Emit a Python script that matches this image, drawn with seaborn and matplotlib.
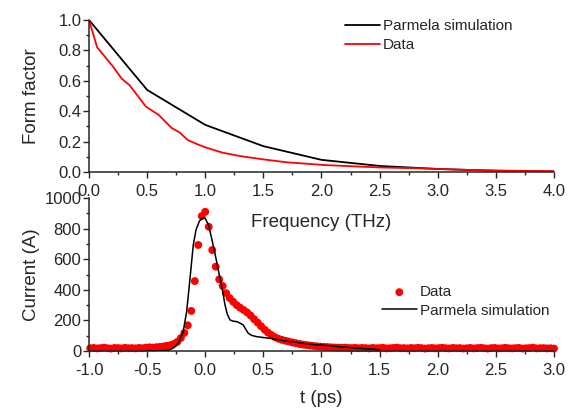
import numpy as np
import matplotlib
matplotlib.use("Agg")
import matplotlib.pyplot as plt
from matplotlib.ticker import MultipleLocator, FormatStrFormatter
import seaborn as sns

# form factor vs frequency (THz)
sim_freq = [0.0, 0.5, 1.0, 1.5, 2.0, 2.5, 3.0, 3.5, 4.0]
sim_ff = [1.0, 0.54, 0.31, 0.17, 0.08, 0.04, 0.02, 0.008, 0.004]
data_freq = [0.0, 0.07, 0.135, 0.21, 0.28, 0.35, 0.42, 0.49, 0.6, 0.71, 0.78, 0.85, 0.94, 1.01,
             1.15, 1.3, 1.5, 1.7, 1.9, 2.02, 2.2, 2.5, 2.8, 3.0, 3.3, 3.5, 3.8, 4.0]
data_ff = [1.0, 0.82, 0.76, 0.69, 0.615, 0.57, 0.50, 0.43, 0.375, 0.29, 0.26, 0.21, 0.18, 0.16,
           0.127, 0.105, 0.083, 0.064, 0.053, 0.046, 0.04, 0.03, 0.025, 0.02, 0.013, 0.01, 0.007, 0.005]

# current profile (A) vs time (ps)
data_t = [-0.99, -0.96, -0.93, -0.90, -0.87, -0.84, -0.81, -0.78, -0.75, -0.72,
          -0.69, -0.66, -0.63, -0.60, -0.57, -0.54, -0.51, -0.48, -0.45, -0.42,
          -0.39, -0.36, -0.33, -0.30, -0.27, -0.24, -0.21, -0.18, -0.15, -0.12,
          -0.09, -0.06, -0.03, 0.00, 0.03, 0.06, 0.09, 0.12, 0.15, 0.18,
          0.21, 0.24, 0.27, 0.30, 0.33, 0.36, 0.39, 0.42, 0.45, 0.48,
          0.51, 0.54, 0.57, 0.60, 0.63, 0.66, 0.69, 0.72, 0.75, 0.78,
          0.81, 0.84, 0.87, 0.90, 0.93, 0.96, 0.99, 1.02, 1.05, 1.08,
          1.11, 1.14, 1.17, 1.20, 1.23, 1.26, 1.29, 1.32, 1.35, 1.38,
          1.41, 1.44, 1.47, 1.50, 1.53, 1.56, 1.59, 1.62, 1.65, 1.68,
          1.71, 1.74, 1.77, 1.80, 1.83, 1.86, 1.89, 1.92, 1.95, 1.98,
          2.01, 2.04, 2.07, 2.10, 2.13, 2.16, 2.19, 2.22, 2.25, 2.28,
          2.31, 2.34, 2.37, 2.40, 2.43, 2.46, 2.49, 2.52, 2.55, 2.58,
          2.61, 2.64, 2.67, 2.70, 2.73, 2.76, 2.79, 2.82, 2.85, 2.88,
          2.91, 2.94, 2.97, 3.00]
data_i = [18, 20, 17, 19, 22, 18, 16, 20, 19, 17,
          21, 18, 19, 17, 20, 18, 22, 24, 22, 25,
          27, 30, 34, 38, 47, 60, 85, 118, 168, 262,
          457, 693, 882, 910, 812, 660, 551, 468, 425, 378,
          346, 322, 300, 283, 268, 252, 232, 208, 186, 162,
          140, 120, 104, 90, 80, 73, 67, 62, 56, 51,
          46, 42, 39, 36, 33, 31, 29, 27, 26, 24,
          23, 22, 21, 22, 20, 19, 21, 18, 20, 19,
          17, 20, 18, 19, 21, 17, 18, 20, 22, 18,
          19, 17, 20, 18, 21, 19, 16, 18, 20, 17,
          19, 21, 18, 17, 20, 18, 19, 16, 18, 20,
          17, 19, 21, 18, 16, 19, 20, 17, 18, 21,
          18, 17, 19, 20, 16, 18, 19, 22, 17, 18,
          19, 17, 18, 16]

sim_t = [-0.50, -0.40, -0.33, -0.30, -0.27, -0.246, -0.22, -0.19, -0.16, -0.131, -0.103, -0.08,
         -0.05, -0.02, 0.0, 0.03, 0.055, 0.08, 0.098, 0.12, 0.14, 0.17, 0.19, 0.213, 0.24, 0.27,
         0.30, 0.327, 0.35, 0.37, 0.40, 0.44, 0.50, 0.557, 0.62, 0.68, 0.73, 0.76, 0.80, 0.843,
         0.90, 1.00, 1.07, 1.15, 1.25, 1.35, 1.45, 1.50]
sim_i = [0, 0, 5, 10, 22, 39, 70, 126, 257, 475, 693, 790,
         850, 870, 867, 820, 736, 650, 584, 500, 431, 301, 240, 203, 195, 192,
         182, 170, 140, 116, 102, 94, 88, 83, 75, 66, 61, 62, 55, 50,
         44, 38, 35, 28, 22, 16, 12, 8]

sns.set_style('ticks')
plt.rcParams['font.family'] = ['Liberation Sans', 'DejaVu Sans']
plt.rcParams['xtick.direction'] = 'out'
plt.rcParams['ytick.direction'] = 'out'

fig = plt.figure(figsize=(5.72, 4.08), dpi=100)
ax1 = fig.add_axes([0.1556, 0.5784, 0.8129, 0.3726])
ax2 = fig.add_axes([0.1556, 0.1397, 0.8129, 0.375])
ax2.patch.set_visible(False)  # the top panel's xlabel sits inside this one

sns.lineplot(x=sim_freq, y=sim_ff, ax=ax1, color='black', lw=1.3, sort=False,
             estimator=None, label='Parmela simulation')
sns.lineplot(x=data_freq, y=data_ff, ax=ax1, color='red', lw=1.3, sort=False,
             estimator=None, label='Data')
ax1.set_xlim(0, 4.0)
ax1.set_ylim(0, 1.0)
ax1.xaxis.set_major_locator(MultipleLocator(0.5))
ax1.xaxis.set_minor_locator(MultipleLocator(0.25))
ax1.yaxis.set_major_locator(MultipleLocator(0.2))
ax1.yaxis.set_minor_locator(MultipleLocator(0.1))
ax1.xaxis.set_major_formatter(FormatStrFormatter('%.1f'))
ax1.yaxis.set_major_formatter(FormatStrFormatter('%.1f'))
ax1.set_xlabel('Frequency (THz)', fontsize=13.5)
ax1.xaxis.set_label_coords(0.5, -0.275)
ax1.set_ylabel('Form factor', fontsize=13.5)
ax1.yaxis.set_label_coords(-0.106, 0.5)
ax1.legend(loc='upper left', bbox_to_anchor=(0.52, 1.095), frameon=False, fontsize=11,
           handlelength=2.3, handletextpad=0.2, labelspacing=0.3)

sns.scatterplot(x=data_t, y=data_i, ax=ax2, color='red', s=32, edgecolor='none',
                label='Data', zorder=2, clip_on=False)
sns.lineplot(x=sim_t, y=sim_i, ax=ax2, color='black', lw=1.1, sort=False,
             estimator=None, label='Parmela simulation', zorder=3)
ax2.set_xlim(-1.0, 3.0)
ax2.set_ylim(0, 1000)
ax2.xaxis.set_major_locator(MultipleLocator(0.5))
ax2.xaxis.set_minor_locator(MultipleLocator(0.25))
ax2.yaxis.set_major_locator(MultipleLocator(200))
ax2.yaxis.set_minor_locator(MultipleLocator(100))
ax2.xaxis.set_major_formatter(FormatStrFormatter('%.1f'))
ax2.set_xlabel('t (ps)', fontsize=13.5, labelpad=9)
ax2.set_ylabel('Current (A)', fontsize=13.5)
ax2.yaxis.set_label_coords(-0.106, 0.5)
ax2.legend(loc='upper left', bbox_to_anchor=(0.6, 0.52), frameon=False, fontsize=11,
           handlelength=2.3, handletextpad=0.2, labelspacing=0.3)

for ax in (ax1, ax2):
    sns.despine(ax=ax)
    ax.tick_params(which='major', length=4.5, width=1, labelsize=12)
    ax.tick_params(which='minor', length=2.5, width=1)
    ax.tick_params(axis='x', which='major', pad=4)
    ax.tick_params(axis='y', which='major', pad=1)
    for sp in ax.spines.values():
        sp.set_linewidth(1.1)

fig.savefig('out.png', dpi=100)
